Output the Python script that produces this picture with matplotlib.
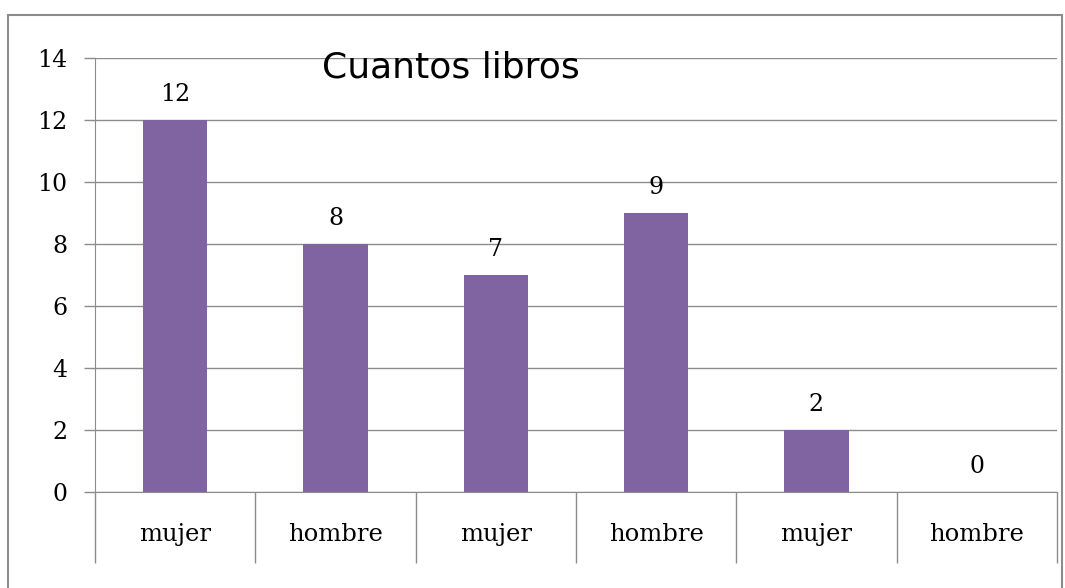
import numpy as np
import matplotlib.pyplot as plt
from matplotlib.patches import Rectangle

# ── Données ──────────────────────────────────────────────────────────────
categorias = ['mujer', 'hombre', 'mujer', 'hombre', 'mujer', 'hombre']
libros = [12, 8, 7, 9, 2, 0]
y_ticks = [0, 2, 4, 6, 8, 10, 12, 14]

COLOR_BARRA = '#8064A2'
GRIS = '#8c8c8c'
SERIF = 'DejaVu Serif'

fig = plt.figure(figsize=(10.65, 5.88), dpi=100)

# cadre gris autour du graphique
fig.patches.append(Rectangle((8 / 1065, -0.01), 1054 / 1065, 1 - 15 / 588 + 0.01,
                             transform=fig.transFigure, fill=False,
                             edgecolor=GRIS, linewidth=1.5))

ax = fig.add_axes([95 / 1065, 1 - 492 / 588, 962 / 1065, 434 / 588])

x = np.arange(len(categorias))
ax.bar(x, libros, width=0.4, color=COLOR_BARRA, zorder=3)

for xi, v in zip(x, libros):
    ax.annotate(str(v), (xi, v), xytext=(0, 10), textcoords='offset points',
                ha='center', va='bottom', fontsize=17, family=SERIF)

ax.set_xlim(-0.5, len(categorias) - 0.5)
ax.set_ylim(0, 14)
ax.set_yticks(y_ticks)
ax.yaxis.grid(True, color=GRIS, linewidth=1)
ax.set_axisbelow(True)

for s in ['top', 'right']:
    ax.spines[s].set_visible(False)
ax.spines['left'].set_color(GRIS)
ax.spines['bottom'].set_color(GRIS)

ax.set_xticks(x)
ax.set_xticklabels(categorias, family=SERIF, fontsize=17.5)
ax.set_xticks(np.arange(-0.5, len(categorias)), minor=True)
ax.tick_params(axis='x', which='major', length=0, pad=22)
ax.tick_params(axis='x', which='minor', length=51, color=GRIS, width=1)
ax.tick_params(axis='y', length=8, color=GRIS, width=1, pad=12)
for lab in ax.get_yticklabels():
    lab.set_family(SERIF)
    lab.set_fontsize(17)

fig.text(451 / 1065, 1 - 78 / 588, 'Cuantos libros', ha='center', va='baseline',
         fontsize=26, family='DejaVu Sans')

fig.savefig('out.png', dpi=100)
